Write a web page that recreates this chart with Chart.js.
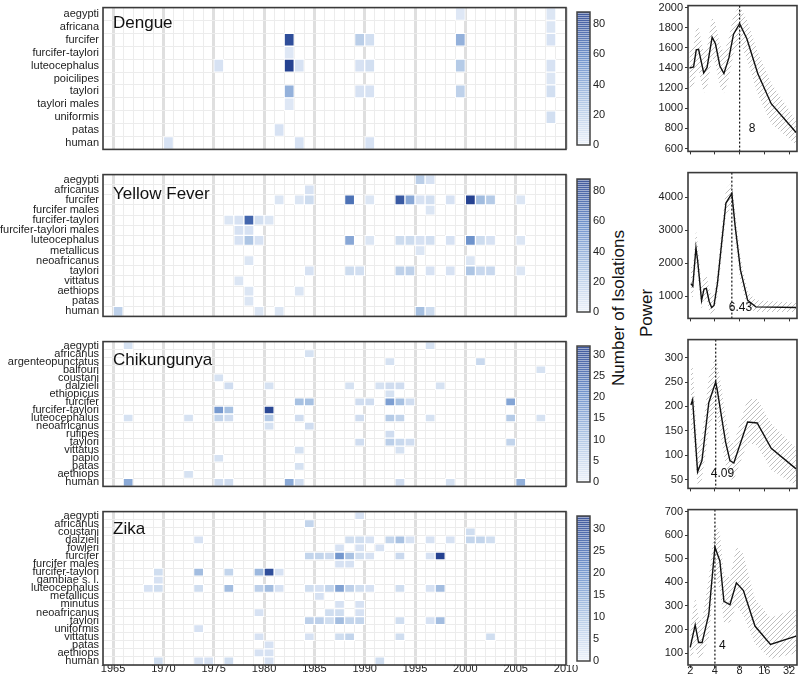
<!DOCTYPE html>
<html>
<head>
<meta charset="utf-8">
<script src="https://cdn.jsdelivr.net/npm/chart.js@4.4.0/dist/chart.umd.min.js"></script>
<style>
body{margin:0;background:#fff;font-family:"Liberation Sans",Arial,sans-serif;}
#wrap{position:relative;width:799px;height:676px;overflow:hidden;}
.c{position:absolute;}
.vlab{position:absolute;font-size:17px;color:#111;white-space:nowrap;transform:translate(-50%,-50%) rotate(-90deg);}
</style>
</head>
<body>
<div id="wrap">
  <div class="vlab" style="left:619px;top:308px">Number of Isolations</div>
  <div class="vlab" style="left:647px;top:313px">Power</div>
</div>
<script>
/* === DATA: heatmaps, [year, species, isolations] === */
const dengueRows = ["aegypti","africana","furcifer","furcifer-taylori","luteocephalus","poicilipes","taylori","taylori males","uniformis","patas","human"];
const dengueCells = [
  [1999,"aegypti",5],[2008,"aegypti",6],
  [2008,"africana",6],
  [1982,"furcifer",80],[1989,"furcifer",20],[1990,"furcifer",10],[1999,"furcifer",35],[2008,"furcifer",8],
  [1982,"furcifer-taylori",5],
  [1975,"luteocephalus",8],[1982,"luteocephalus",85],[1983,"luteocephalus",8],[1989,"luteocephalus",8],[1990,"luteocephalus",10],[1999,"luteocephalus",22],[2008,"luteocephalus",8],
  [2008,"poicilipes",6],
  [1982,"taylori",35],[1989,"taylori",8],[1990,"taylori",8],[1999,"taylori",18],[2008,"taylori",10],
  [1982,"taylori males",5],
  [2008,"uniformis",10],
  [1981,"patas",8],
  [1970,"human",8],[1983,"human",8],[1990,"human",8]
];

const yfRows = ["aegypti","africanus","furcifer","furcifer males","furcifer-taylori","furcifer-taylori males","luteocephalus","metallicus","neoafricanus","taylori","vittatus","aethiops","patas","human"];
const yfCells = [
  [1995,"aegypti",20],[1996,"aegypti",8],
  [1984,"africanus",8],
  [1981,"furcifer",6],[1983,"furcifer",6],[1984,"furcifer",12],[1988,"furcifer",65],[1990,"furcifer",6],[1993,"furcifer",75],[1994,"furcifer",40],[1995,"furcifer",8],[1996,"furcifer",10],[1998,"furcifer",8],[2000,"furcifer",85],[2001,"furcifer",30],[2002,"furcifer",22],[2005,"furcifer",6],
  [1996,"furcifer males",6],
  [1976,"furcifer-taylori",6],[1977,"furcifer-taylori",8],[1978,"furcifer-taylori",70],[1979,"furcifer-taylori",10],[1980,"furcifer-taylori",6],
  [1977,"furcifer-taylori males",8],[1978,"furcifer-taylori males",8],
  [1977,"luteocephalus",8],[1978,"luteocephalus",25],[1979,"luteocephalus",8],[1988,"luteocephalus",40],[1990,"luteocephalus",6],[1993,"luteocephalus",12],[1994,"luteocephalus",12],[1995,"luteocephalus",8],[1996,"luteocephalus",10],[1998,"luteocephalus",8],[2000,"luteocephalus",50],[2001,"luteocephalus",12],[2002,"luteocephalus",8],[2005,"luteocephalus",6],
  [1995,"metallicus",6],
  [1978,"neoafricanus",6],[2000,"neoafricanus",6],
  [1984,"taylori",8],[1988,"taylori",12],[1989,"taylori",10],[1993,"taylori",18],[1994,"taylori",18],[1996,"taylori",8],[1998,"taylori",8],[2000,"taylori",25],[2001,"taylori",14],[2002,"taylori",14],[2005,"taylori",6],
  [1977,"vittatus",6],
  [1978,"aethiops",6],[1983,"aethiops",6],
  [1978,"patas",6],
  [1965,"human",18],[1979,"human",6],[1981,"human",6],[1995,"human",28],[1996,"human",12]
];

const chikRows = ["aegypti","africanus","argenteopunctatus","balfouri","coustani","dalzieli","ethiopicus","furcifer","furcifer-taylori","luteocephalus","neoafricanus","rufipes","taylori","vittatus","papio","patas","aethiops","human"];
const chikCells = [
  [1966,"aegypti",3],[1996,"aegypti",3],
  [1984,"africanus",3],
  [1992,"argenteopunctatus",3],[2001,"argenteopunctatus",5],
  [2007,"balfouri",3],
  [1975,"coustani",3],
  [1976,"dalzieli",4],[1980,"dalzieli",3],[1988,"dalzieli",3],[1991,"dalzieli",3],[1992,"dalzieli",4],[1993,"dalzieli",4],[1997,"dalzieli",3],
  [1992,"ethiopicus",3],
  [1983,"furcifer",10],[1984,"furcifer",10],[1989,"furcifer",4],[1990,"furcifer",4],[1992,"furcifer",16],[1993,"furcifer",10],[1994,"furcifer",4],[2004,"furcifer",15],
  [1975,"furcifer-taylori",17],[1976,"furcifer-taylori",10],[1980,"furcifer-taylori",30],
  [1966,"luteocephalus",3],[1972,"luteocephalus",3],[1975,"luteocephalus",6],[1976,"luteocephalus",4],[1980,"luteocephalus",8],[1983,"luteocephalus",4],[1989,"luteocephalus",4],[1992,"luteocephalus",8],[1993,"luteocephalus",6],[1996,"luteocephalus",3],[2004,"luteocephalus",8],[2007,"luteocephalus",3],
  [1980,"neoafricanus",3],[1984,"neoafricanus",4],
  [1992,"rufipes",4],
  [1989,"taylori",4],[1992,"taylori",7],[1993,"taylori",5],[1994,"taylori",4],[2004,"taylori",6],
  [1983,"vittatus",3],[1993,"vittatus",3],
  [1975,"papio",3],
  [1983,"patas",3],
  [1972,"aethiops",3],
  [1966,"human",14],[1975,"human",4],[1976,"human",4],[1982,"human",14],[1983,"human",4],[1993,"human",4],[1998,"human",3],[2005,"human",13]
];

const zikaRows = ["aegypti","africanus","coustani","dalzieli","fowleri","furcifer","furcifer males","furcifer-taylori","gambiae s. l.","luteocephalus","metallicus","minutus","neoafricanus","taylori","uniformis","vittatus","patas","aethiops","human"];
const zikaCells = [
  [1989,"aegypti",3],
  [1984,"africanus",6],
  [2000,"coustani",4],
  [1973,"dalzieli",3],[1988,"dalzieli",4],[1989,"dalzieli",4],[1990,"dalzieli",3],[1992,"dalzieli",6],[1993,"dalzieli",10],[1994,"dalzieli",3],[1996,"dalzieli",3],[1998,"dalzieli",3],[2000,"dalzieli",6],[2001,"dalzieli",6],[2002,"dalzieli",4],
  [1987,"fowleri",3],[1989,"fowleri",3],[1991,"fowleri",3],
  [1984,"furcifer",6],[1985,"furcifer",6],[1986,"furcifer",5],[1987,"furcifer",18],[1988,"furcifer",10],[1989,"furcifer",4],[1990,"furcifer",3],[1993,"furcifer",5],[1996,"furcifer",3],[1997,"furcifer",32],
  [1987,"furcifer males",3],[1988,"furcifer males",3],
  [1969,"furcifer-taylori",4],[1973,"furcifer-taylori",11],[1976,"furcifer-taylori",6],[1979,"furcifer-taylori",12],[1980,"furcifer-taylori",30],[1981,"furcifer-taylori",3],
  [1969,"gambiae s. l.",3],
  [1968,"luteocephalus",3],[1969,"luteocephalus",4],[1973,"luteocephalus",4],[1976,"luteocephalus",11],[1979,"luteocephalus",7],[1980,"luteocephalus",11],[1981,"luteocephalus",3],[1984,"luteocephalus",4],[1985,"luteocephalus",3],[1986,"luteocephalus",6],[1987,"luteocephalus",16],[1988,"luteocephalus",7],[1989,"luteocephalus",4],[1990,"luteocephalus",3],[1993,"luteocephalus",4],[1996,"luteocephalus",3],[1997,"luteocephalus",11],
  [1985,"metallicus",3],
  [1987,"minutus",3],[1989,"minutus",3],
  [1979,"neoafricanus",3],[1986,"neoafricanus",4],[1987,"neoafricanus",4],[1989,"neoafricanus",3],
  [1984,"taylori",7],[1985,"taylori",7],[1986,"taylori",4],[1987,"taylori",11],[1988,"taylori",6],[1989,"taylori",6],[1993,"taylori",4],[1996,"taylori",3],[1997,"taylori",11],
  [1973,"uniformis",3],
  [1979,"vittatus",3],[1984,"vittatus",3],[1987,"vittatus",4],[1988,"vittatus",6],[1993,"vittatus",4],[2002,"vittatus",4],
  [1980,"patas",3],
  [1979,"aethiops",3],[1980,"aethiops",3],
  [1969,"human",4],[1973,"human",3],[1974,"human",3],[1976,"human",4],[1980,"human",3],[1991,"human",4]
];

const cbTicksA = [0,20,40,60,80];
const cbTicksB = [0,5,10,15,20,25,30];

/* === DATA: power spectra (period, power, band) === */
const periodTicks = [2,4,8,16,32];

const dengueX  = [1.96,2.2,2.37,2.53,2.92,3.21,3.7,4.06,4.6,5.15,5.92,6.74,8,9.8,13.3,19.4,39];
const dengueP  = [1400,1410,1580,1585,1350,1405,1705,1640,1420,1345,1500,1735,1840,1690,1345,1045,760];
const dengueHi = [1600,1620,1800,1800,1560,1610,1900,1850,1630,1550,1700,1930,2010,1880,1560,1250,880];
const dengueLo = [1200,1210,1370,1380,1150,1200,1500,1440,1220,1150,1300,1540,1660,1490,1140,850,640];
const dengueYTicks = [600,800,1000,1200,1400,1600,1800,2000];

const yfX  = [2.04,2.15,2.35,2.47,2.75,2.95,3.15,3.4,3.65,3.9,4.3,4.85,5.45,6.43,7.05,8.2,10,12.6,39];
const yfP  = [1380,1300,2470,2050,870,1220,1240,850,660,720,1400,2650,3820,4110,3130,1790,880,680,660];
const yfHi = [1900,1850,3000,2600,1300,1600,1650,1250,1000,1050,1800,3100,4250,4450,3600,2200,1150,880,800];
const yfLo = [1000,950,2000,1600,600,900,900,550,420,480,1000,2200,3400,3800,2700,1400,650,520,520];
const yfYTicks = [1000,2000,3000,4000];

const chikX  = [2.04,2.14,2.46,2.78,3.37,4.09,4.27,4.8,5.4,6.1,6.8,10,13.1,19.4,39];
const chikP  = [203,214,66,89,208,250,234,180,127,89,84,168,166,114,72];
const chikHi = [275,285,115,140,260,305,290,240,180,130,125,215,215,165,115];
const chikLo = [140,150,40,50,150,200,180,130,80,50,50,125,120,70,38];
const chikYTicks = [50,100,150,200,250,300];

const zikaX  = [2.0,2.3,2.53,2.79,3.37,4,4.6,5.15,6.1,7.3,8.9,12.3,19,39];
const zikaP  = [125,220,145,145,265,550,490,320,305,398,365,215,137,172];
const zikaHi = [200,340,250,240,420,650,610,430,420,550,520,330,250,290];
const zikaLo = [70,120,80,90,160,430,370,230,230,300,260,140,75,100];
const zikaYTicks = [100,200,300,400,500,600,700];

const peakPeriods = [8, 6.43, 4.09, 4];
const peakLabels = ["8", "6.43", "4.09", "4"];

/* === LAYOUT === */
const FONT = "'Liberation Sans', Arial, sans-serif";
Chart.defaults.font.family = FONT;
const wrap = document.getElementById("wrap");

const heatPanels = [
  {name:"Dengue",       rows:dengueRows, cells:dengueCells, max:88, cb:cbTicksA, top:1,   bottom:156, titleDy:20},
  {name:"Yellow Fever", rows:yfRows,     cells:yfCells,     max:88, cb:cbTicksA, top:168, bottom:323, titleDy:24},
  {name:"Chikungunya",  rows:chikRows,   cells:chikCells,   max:32, cb:cbTicksB, top:335, bottom:493, titleDy:23},
  {name:"Zika",         rows:zikaRows,   cells:zikaCells,   max:33, cb:cbTicksB, top:505, bottom:661, titleDy:22}
];
const linePanels = [
  {x:dengueX, p:dengueP, hi:dengueHi, lo:dengueLo, yt:dengueYTicks, min:572, max:2019, labVal:800, labDx:9},
  {x:yfX,     p:yfP,     hi:yfHi,     lo:yfLo,     yt:yfYTicks,     min:330, max:4740, labVal:660, labDx:-3},
  {x:chikX,   p:chikP,   hi:chikHi,   lo:chikLo,   yt:chikYTicks,   min:32,  max:337,  labVal:63,  labDx:-5},
  {x:zikaX,   p:zikaP,   hi:zikaHi,   lo:zikaLo,   yt:zikaYTicks,   min:50,  max:708,  labVal:130, labDx:4}
];

/* === COLOURS === */
const stops = [[0,[255,255,255]],[0.02,[230,237,248]],[0.3,[170,195,227]],[0.65,[92,132,197]],[1,[31,59,139]]];
function cmap(t){
  t = Math.max(0, Math.min(1, t));
  for(let i=1;i<stops.length;i++){
    if(t <= stops[i][0]){
      const a = stops[i-1], b = stops[i], f = (t-a[0])/(b[0]-a[0]);
      return a[1].map((c,k)=>Math.round(c+(b[1][k]-c)*f));
    }
  }
  return stops[stops.length-1][1];
}
const rgb = c => "rgb("+c.join(",")+")";
const tint = (c, f) => c.map(v=>Math.round(v+(255-v)*f));

function hatch(){
  const c = document.createElement("canvas"); c.width = 5; c.height = 5;
  const g = c.getContext("2d");
  g.strokeStyle = "#b8b8b8"; g.lineWidth = 0.9;
  g.beginPath(); g.moveTo(0,5); g.lineTo(5,0); g.moveTo(-1,1); g.lineTo(1,-1); g.moveTo(4,6); g.lineTo(6,4); g.stroke();
  return g.createPattern(c, "repeat");
}

function makeCanvas(left, top, w, h){
  const c = document.createElement("canvas");
  c.width = w; c.height = h; c.className = "c";
  c.style.left = left+"px"; c.style.top = top+"px"; c.style.width = w+"px"; c.style.height = h+"px";
  wrap.appendChild(c);
  return c;
}

/* === PLUGINS === */
const boxPlugin = {id:"box", afterDraw(ch){
  const a = ch.chartArea, g = ch.ctx;
  g.save(); g.strokeStyle = "#3a3a3a"; g.lineWidth = 1.6;
  g.strokeRect(a.left, a.top, a.right-a.left, a.bottom-a.top); g.restore();
}};

function titlePlugin(p){ return {id:"ttl", afterDraw(ch){
  const a = ch.chartArea, g = ch.ctx;
  g.save(); g.font = "17px "+FONT; g.fillStyle = "#111";
  g.fillText(p.name, a.left+10, a.top+p.titleDy); g.restore();
}};}

function colorbarPlugin(p){ return {id:"cbar", afterDraw(ch){
  const a = ch.chartArea, g = ch.ctx;
  const x0 = Math.round(a.right+11), w = 13, top = Math.round(a.top+4), bot = Math.round(a.bottom-4);
  g.save();
  for(let y=bot-1; y>=top; y--){
    const c = cmap((bot-y)/(bot-top));
    g.fillStyle = rgb(tint(c, (bot-y)%2 ? 0.15 : 0.55)); g.fillRect(x0, y, w, 1);
  }
  g.strokeStyle = "#444"; g.lineWidth = 1.5; g.strokeRect(x0, top, w, bot-top);
  g.font = "11px "+FONT; g.fillStyle = "#222"; g.textBaseline = "middle";
  p.cb.forEach(v=>{ g.fillText(String(v), x0+w+3, bot - v/p.max*(bot-top)); });
  g.restore();
}};}

function peakPlugin(i, lp){ return {id:"peak", afterDatasetsDraw(ch){
  const a = ch.chartArea, g = ch.ctx;
  const x = ch.scales.x.getPixelForValue(peakPeriods[i]);
  g.save(); g.strokeStyle = "#111"; g.lineWidth = 1.2; g.setLineDash([2,2]);
  g.beginPath(); g.moveTo(x, a.top); g.lineTo(x, a.bottom); g.stroke();
  g.setLineDash([]); g.font = "12px "+FONT; g.fillStyle = "#111"; g.textBaseline = "middle";
  g.fillText(peakLabels[i], x+lp.labDx, ch.scales.y.getPixelForValue(lp.labVal));
  g.restore();
}};}

/* === HEATMAPS === */
heatPanels.forEach((p, i)=>{
  const last = i === heatPanels.length-1;
  const h = (p.bottom-p.top) + 8 + (last ? 16 : 0);
  const cv = makeCanvas(0, p.top-4, 625, h);
  new Chart(cv, {
    type:"bar",
    data:{labels:p.rows, datasets:[{
      data:p.cells.map(c=>({x:[c[0], c[0]+1], y:c[1], v:c[2]})),
      backgroundColor:ctx=>rgb(cmap((ctx.raw ? ctx.raw.v : 0)/p.max)),
      borderColor:"#fff", borderWidth:1, borderSkipped:false,
      categoryPercentage:1, barPercentage:1
    }]},
    options:{
      indexAxis:"y", responsive:false, animation:false, devicePixelRatio:1,
      layout:{padding:{top:4, bottom:last?0:4, left:0, right:59}},
      plugins:{legend:{display:false}, tooltip:{enabled:false}},
      scales:{
        x:{type:"linear", min:1964, max:2010,
          afterBuildTicks:s=>{ const t=[]; for(let y=1964;y<=2010;y++) t.push({value:y}); s.ticks=t; },
          ticks:{display:last, autoSkip:false, maxRotation:0, minRotation:0, padding:-3, color:"#222", font:{size:11},
            callback:v=>v%5===0 ? String(v) : ""},
          grid:{drawTicks:false,
            color:ctx=>ctx.tick && ctx.tick.value%5===0 ? "#dfdfdf" : "#ececec",
            lineWidth:ctx=>ctx.tick && ctx.tick.value%5===0 ? 3 : 1},
          border:{display:false},
          afterFit:s=>{ s.height = last ? 16 : 0; }},
        y:{type:"category", offset:true,
          ticks:{autoSkip:false, padding:4, color:"#222", font:{size:11}},
          grid:{offset:true, drawTicks:false, color:"#ececec"},
          border:{display:false},
          afterFit:s=>{ s.width = 103; }}
      }
    },
    plugins:[boxPlugin, titlePlugin(p), colorbarPlugin(p)]
  });
});

/* === POWER SPECTRA === */
const pts = (xs, ys) => xs.map((x,k)=>({x:x, y:ys[k]}));
linePanels.forEach((lp, i)=>{
  const hp = heatPanels[i];
  const last = i === linePanels.length-1;
  const h = (hp.bottom-hp.top) + 8 + (last ? 16 : 0);
  const cv = makeCanvas(640, hp.top-4, 159, h);
  new Chart(cv, {
    type:"line",
    data:{datasets:[
      {data:pts(lp.x, lp.p),  borderColor:"#111", borderWidth:1.4, pointRadius:0, tension:0, fill:false},
      {data:pts(lp.x, lp.hi), borderWidth:0, borderColor:"rgba(0,0,0,0)", pointRadius:0, tension:0, fill:"+1", backgroundColor:hatch()},
      {data:pts(lp.x, lp.lo), borderWidth:0, borderColor:"rgba(0,0,0,0)", pointRadius:0, tension:0, fill:false}
    ]},
    options:{
      responsive:false, animation:false, devicePixelRatio:1,
      layout:{padding:{top:4, bottom:last?0:4, left:0, right:2}},
      plugins:{legend:{display:false}, tooltip:{enabled:false}},
      scales:{
        x:{type:"logarithmic", min:1.88, max:40,
          afterBuildTicks:s=>{ s.ticks = periodTicks.map(v=>({value:v})); },
          ticks:{display:last, autoSkip:false, maxRotation:0, padding:-4, color:"#222", font:{size:11}, callback:v=>String(v)},
          grid:{drawOnChartArea:false, tickLength:3, color:"#333"},
          border:{display:false},
          afterFit:s=>{ s.height = last ? 16 : 0; }},
        y:{type:"linear", min:lp.min, max:lp.max,
          afterBuildTicks:s=>{ s.ticks = lp.yt.map(v=>({value:v})); },
          ticks:{padding:2, color:"#222", font:{size:11}, callback:v=>String(v)},
          grid:{drawOnChartArea:false, tickLength:3, color:"#333"},
          border:{display:false},
          afterFit:s=>{ s.width = 48; }}
      }
    },
    plugins:[boxPlugin, peakPlugin(i, lp)]
  });
});
</script>
</body>
</html>
